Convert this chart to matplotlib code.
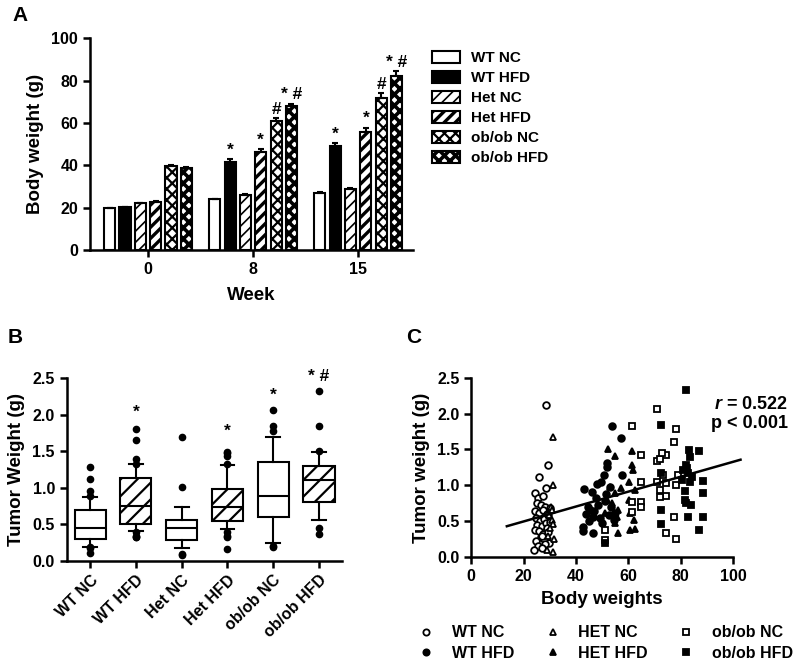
import numpy as np
import matplotlib
matplotlib.use('Agg')
import matplotlib.pyplot as plt
from matplotlib.patches import Patch
from matplotlib.lines import Line2D

plt.rcParams['font.family'] = ['Liberation Sans', 'DejaVu Sans']
plt.rcParams['font.weight'] = 'bold'
plt.rcParams['axes.labelweight'] = 'bold'
plt.rcParams['axes.linewidth'] = 1.8
plt.rcParams['xtick.major.width'] = 1.8
plt.rcParams['ytick.major.width'] = 1.8
plt.rcParams['xtick.major.size'] = 5
plt.rcParams['ytick.major.size'] = 5
plt.rcParams['hatch.linewidth'] = 1.5
plt.rcParams['mathtext.fontset'] = 'custom'
plt.rcParams['mathtext.it'] = 'Liberation Sans:italic:bold'

# ---- panel A: body weight by week ----
weeks = ['0', '8', '15']
groups = ['WT NC', 'WT HFD', 'Het NC', 'Het HFD', 'ob/ob NC', 'ob/ob HFD']
bw_mean = [
    [19.7, 23.9, 26.8],   # WT NC
    [20.2, 41.6, 49.1],   # WT HFD
    [22.0, 26.0, 29.0],   # Het NC
    [22.8, 46.5, 55.7],   # Het HFD
    [39.8, 61.1, 71.8],   # ob/ob NC
    [38.6, 68.0, 82.4],   # ob/ob HFD
]
bw_sem = [
    [0.3, 0.4, 0.5],
    [0.3, 1.2, 1.6],
    [0.4, 0.5, 0.5],
    [0.4, 1.2, 2.1],
    [0.5, 1.1, 2.4],
    [0.5, 1.1, 2.2],
]
# (week index, group index, mark)
bw_marks = [(1, 1, '*'), (1, 3, '*'), (1, 4, '#'), (1, 5, '* #'),
            (2, 1, '*'), (2, 3, '*'), (2, 4, '#'), (2, 5, '* #')]

# ---- panel B: tumor weight box plots ----
box_labels = ['WT NC', 'WT HFD', 'Het NC', 'Het HFD', 'ob/ob NC', 'ob/ob HFD']
box_q1 = [0.30, 0.51, 0.29, 0.54, 0.60, 0.81]
box_med = [0.45, 0.75, 0.45, 0.73, 0.89, 1.11]
box_q3 = [0.69, 1.13, 0.56, 0.98, 1.36, 1.30]
box_lo = [0.19, 0.41, 0.17, 0.44, 0.24, 0.56]
box_hi = [0.87, 1.33, 0.73, 1.31, 1.69, 1.49]
box_fliers = [
    [1.29, 1.12, 0.96, 0.89, 0.19, 0.18, 0.10],
    [1.81, 1.65, 1.39, 1.33, 0.39, 0.34, 0.33, 0.33],
    [1.69, 1.01, 0.09, 0.08],
    [1.49, 1.47, 1.43, 1.32, 0.40, 0.34, 0.33, 0.16],
    [2.06, 1.84, 1.78, 0.20, 0.19],
    [2.33, 1.84, 1.51, 0.45, 0.37],
]
box_marks = [(1, 2.04, '*'), (3, 1.78, '*'), (4, 2.27, '*'), (5, 2.52, '* #')]

# ---- panel C: tumor weight vs body weight ----
wt_nc_x = [28.5, 29.3, 26.0, 28.5, 24.3, 25.5, 27.4, 25.0, 26.6, 28.0, 24.5, 26.0, 27.5, 29.0, 30.0,
           24.8, 26.2, 27.8, 29.5, 25.3, 27.0, 28.6, 30.2, 24.2, 25.8, 27.3, 28.8, 26.5, 24.6, 27.9,
           29.8, 25.6, 28.2, 26.9, 24.0, 27.2, 29.2]
wt_nc_y = [2.12, 1.29, 1.12, 0.96, 0.89, 0.82, 0.85, 0.76, 0.72, 0.70, 0.64, 0.62, 0.66, 0.60, 0.68,
           0.55, 0.50, 0.53, 0.58, 0.45, 0.43, 0.47, 0.49, 0.38, 0.36, 0.32, 0.40, 0.28, 0.22, 0.25,
           0.20, 0.16, 0.18, 0.13, 0.10, 0.30, 0.35]
het_nc_x = [31.4, 31.4, 30.5, 31.0, 29.8, 30.8, 31.2, 30.2, 29.5, 31.5, 28.8, 31.4]
het_nc_y = [1.68, 1.01, 0.70, 0.65, 0.58, 0.52, 0.46, 0.40, 0.30, 0.25, 0.10, 0.07]
wt_hfd_x = [53.7, 57.1, 57.5, 42.9, 51.7, 52.0, 48.0, 49.5, 50.5, 53.0, 46.0, 47.5, 44.5, 45.5, 48.5,
            51.0, 53.5, 55.0, 44.0, 46.5, 49.0, 52.5, 42.8, 42.8, 45.0, 46.6, 50.0, 54.5, 47.0, 51.5]
wt_hfd_y = [1.82, 1.66, 1.15, 0.95, 1.31, 1.25, 1.02, 1.05, 1.15, 0.98, 0.90, 0.82, 0.70, 0.66, 0.72,
            0.78, 0.70, 0.62, 0.60, 0.56, 0.55, 0.58, 0.42, 0.36, 0.50, 0.33, 0.48, 0.52, 0.64, 0.88]
het_hfd_x = [52.1, 54.9, 61.5, 61.5, 61.9, 60.4, 62.5, 57.0, 55.0, 53.0, 53.6, 56.0, 55.5, 60.8, 62.0,
             62.5, 60.8, 56.0, 55.0, 51.2, 51.8, 60.2]
het_hfd_y = [1.50, 1.41, 1.48, 1.28, 1.21, 1.05, 0.93, 0.96, 0.89, 0.98, 0.75, 0.66, 0.56, 0.61, 0.52,
             0.39, 0.38, 0.33, 0.47, 0.61, 0.80, 0.80]
ob_nc_x = [61.5, 64.8, 64.8, 61.5, 64.8, 64.8, 61.5, 51.0, 51.0, 71.0, 78.0, 77.4, 74.2, 71.0, 72.0,
           73.3, 71.0, 74.5, 72.0, 74.5, 72.0, 77.4, 74.5, 78.0, 78.0, 79.0, 73.0]
ob_nc_y = [1.83, 1.42, 1.05, 0.77, 0.77, 0.70, 0.63, 0.38, 0.24, 2.06, 1.78, 1.60, 1.42, 1.34, 1.37,
           1.14, 1.04, 1.03, 0.94, 0.85, 0.84, 0.56, 0.33, 0.25, 1.00, 1.14, 1.45]
ob_hfd_x = [81.8, 72.3, 83.0, 87.0, 83.7, 81.8, 81.0, 82.6, 80.3, 83.7, 88.6, 81.6, 81.6, 82.0, 83.8,
            88.6, 88.6, 82.6, 87.0, 72.3, 72.3, 51.0, 82.5, 84.2, 72.3]
ob_hfd_y = [2.33, 1.84, 1.49, 1.48, 1.39, 1.28, 1.21, 1.17, 1.07, 1.05, 1.06, 0.92, 0.80, 0.75, 0.72,
            0.89, 0.56, 0.56, 0.38, 0.66, 0.46, 0.19, 1.24, 1.12, 1.17]
fit_slope = 0.0104
fit_intercept = 0.288
fit_range = [13.6, 102.8]

TICK_FS = 11.5
LABEL_FS = 13.5

fig = plt.figure(figsize=(8, 6.72), dpi=100)


def style_axes(ax):
    ax.spines['top'].set_visible(False)
    ax.spines['right'].set_visible(False)
    ax.tick_params(labelsize=TICK_FS)
    for lab in ax.get_xticklabels() + ax.get_yticklabels():
        lab.set_fontweight('bold')


# ---------------- A ----------------
axA = fig.add_axes([0.1125, 0.628, 0.404, 0.315])
styles = [
    dict(color='white', hatch=None, hlw=1.0),
    dict(color='black', hatch=None, hlw=1.0),
    dict(color='white', hatch='///', hlw=1.2),
    dict(color='white', hatch='///', hlw=2.4),
    dict(color='white', hatch='xxx', hlw=1.6),
    dict(color='white', hatch='xxx', hlw=2.6),
]
x = np.arange(len(weeks))
pitch, width = 0.146, 0.105
bar_tops = {}
for i, g in enumerate(groups):
    xs = x + (i - 2.5) * pitch
    st = styles[i]
    bars = axA.bar(xs, bw_mean[i], width, color=st['color'], edgecolor='black',
                   linewidth=1.5, hatch=st['hatch'], zorder=2)
    for p in bars:
        if hasattr(p, 'set_hatch_linewidth'):
            p.set_hatch_linewidth(st['hlw'])
    axA.errorbar(xs, bw_mean[i], yerr=[np.zeros(len(weeks)), bw_sem[i]], fmt='none',
                 ecolor='black', elinewidth=1.5, capsize=2.5, capthick=1.5, zorder=3)
    for w in range(len(weeks)):
        bar_tops[(w, i)] = (xs[w], bw_mean[i][w] + bw_sem[i][w])

for w, i, mark in bw_marks:
    bx, by = bar_tops[(w, i)]
    axA.annotate(mark, (bx, by), xytext=(0, 1), textcoords='offset points',
                 ha='center', va='bottom', fontsize=12.5, fontweight='bold')

axA.set_xlim(-0.552, 2.524)
axA.set_ylim(0, 100)
axA.set_yticks([0, 20, 40, 60, 80, 100])
axA.set_xticks(x)
axA.set_xticklabels(weeks)
axA.set_xlabel('Week', fontsize=LABEL_FS, labelpad=7)
axA.set_ylabel('Body weight (g)', fontsize=LABEL_FS, labelpad=5)
style_axes(axA)

leg_handles = []
for i, g in enumerate(groups):
    st = styles[i]
    h = Patch(facecolor=st['color'], edgecolor='black', linewidth=1.5, hatch=st['hatch'], label=g)
    leg_handles.append(h)
legA = fig.legend(handles=leg_handles, loc='upper left', bbox_to_anchor=(0.531, 0.935),
                  frameon=False, fontsize=11, handlelength=1.8, handleheight=0.8,
                  handletextpad=0.7, labelspacing=0.38, borderpad=0)
for t in legA.get_texts():
    t.set_fontweight('bold')
for idx, p in enumerate(legA.get_patches()):
    if hasattr(p, 'set_hatch_linewidth'):
        p.set_hatch_linewidth(styles[idx]['hlw'])

fig.text(0.016, 0.977, 'A', fontsize=15, fontweight='bold', ha='left', va='center')

# ---------------- B ----------------
axB = fig.add_axes([0.0834, 0.1656, 0.344, 0.2714])
stats = []
for k in range(len(box_labels)):
    stats.append(dict(med=box_med[k], q1=box_q1[k], q3=box_q3[k], whislo=box_lo[k],
                      whishi=box_hi[k], fliers=box_fliers[k], label=box_labels[k]))
bp = axB.bxp(stats, positions=np.arange(1, 7), widths=0.68, patch_artist=True,
             boxprops=dict(facecolor='white', edgecolor='black', linewidth=1.5),
             medianprops=dict(color='black', linewidth=1.5),
             whiskerprops=dict(color='black', linewidth=1.5),
             capprops=dict(color='black', linewidth=1.5),
             flierprops=dict(marker='o', markerfacecolor='black', markeredgecolor='black',
                             markersize=4.5), capwidths=0.3)
for k, box in enumerate(bp['boxes']):
    if 'HFD' in box_labels[k]:
        box.set_hatch('//')
        if hasattr(box, 'set_hatch_linewidth'):
            box.set_hatch_linewidth(1.6)
for k, yv, mark in box_marks:
    axB.text(k + 1, yv, mark, ha='center', va='center', fontsize=12.5, fontweight='bold',
             clip_on=False)
axB.set_xlim(0.49, 6.5)
axB.set_ylim(0, 2.5)
axB.set_yticks([0.0, 0.5, 1.0, 1.5, 2.0, 2.5])
axB.set_yticklabels(['0.0', '0.5', '1.0', '1.5', '2.0', '2.5'])
axB.set_xticklabels(box_labels, rotation=45, ha='right', rotation_mode='anchor')
axB.set_ylabel('Tumor Weight (g)', fontsize=LABEL_FS, labelpad=5)
style_axes(axB)

fig.text(0.01, 0.498, 'B', fontsize=15, fontweight='bold', ha='left', va='center')

# ---------------- C ----------------
axC = fig.add_axes([0.589, 0.1711, 0.3275, 0.2668])
ms = 4.8
series = [
    ('WT NC', wt_nc_x, wt_nc_y, 'o', 'white'),
    ('WT HFD', wt_hfd_x, wt_hfd_y, 'o', 'black'),
    ('HET NC', het_nc_x, het_nc_y, '^', 'white'),
    ('HET HFD', het_hfd_x, het_hfd_y, '^', 'black'),
    ('ob/ob NC', ob_nc_x, ob_nc_y, 's', 'white'),
    ('ob/ob HFD', ob_hfd_x, ob_hfd_y, 's', 'black'),
]
handlesC = []
for name, sx, sy, mk, fc in series:
    axC.plot(sx, sy, linestyle='none', marker=mk, markersize=ms, markerfacecolor=fc,
             markeredgecolor='black', markeredgewidth=1.3, clip_on=False, zorder=3)
    handlesC.append(Line2D([], [], linestyle='none', marker=mk, markersize=4.5,
                           markerfacecolor=fc, markeredgecolor='black', markeredgewidth=1.3,
                           label=name))
fx = np.array(fit_range)
axC.plot(fx, fit_intercept + fit_slope * fx, color='black', linewidth=1.8, clip_on=False, zorder=4)
axC.set_xlim(0, 100)
axC.set_ylim(0, 2.5)
axC.set_xticks([0, 20, 40, 60, 80, 100])
axC.set_yticks([0.0, 0.5, 1.0, 1.5, 2.0, 2.5])
axC.set_yticklabels(['0.0', '0.5', '1.0', '1.5', '2.0', '2.5'])
axC.set_xlabel('Body weights', fontsize=LABEL_FS, labelpad=5)
axC.set_ylabel('Tumor weight (g)', fontsize=LABEL_FS, labelpad=5)
style_axes(axC)
axC.text(1.21, 0.851, '$r$ = 0.522', transform=axC.transAxes, ha='right', va='center',
         fontsize=13, fontweight='bold')
axC.text(1.21, 0.745, 'p < 0.001', transform=axC.transAxes, ha='right', va='center',
         fontsize=13, fontweight='bold')

legC = fig.legend(handles=handlesC, ncol=3, loc='center', bbox_to_anchor=(0.757, 0.043),
                  frameon=False, fontsize=11.5, handlelength=1.0, handletextpad=1.1,
                  columnspacing=1.9, labelspacing=0.35, borderpad=0)
for t in legC.get_texts():
    t.set_fontweight('bold')

fig.text(0.508, 0.498, 'C', fontsize=15, fontweight='bold', ha='left', va='center')

fig.savefig('out.png', dpi=100)
